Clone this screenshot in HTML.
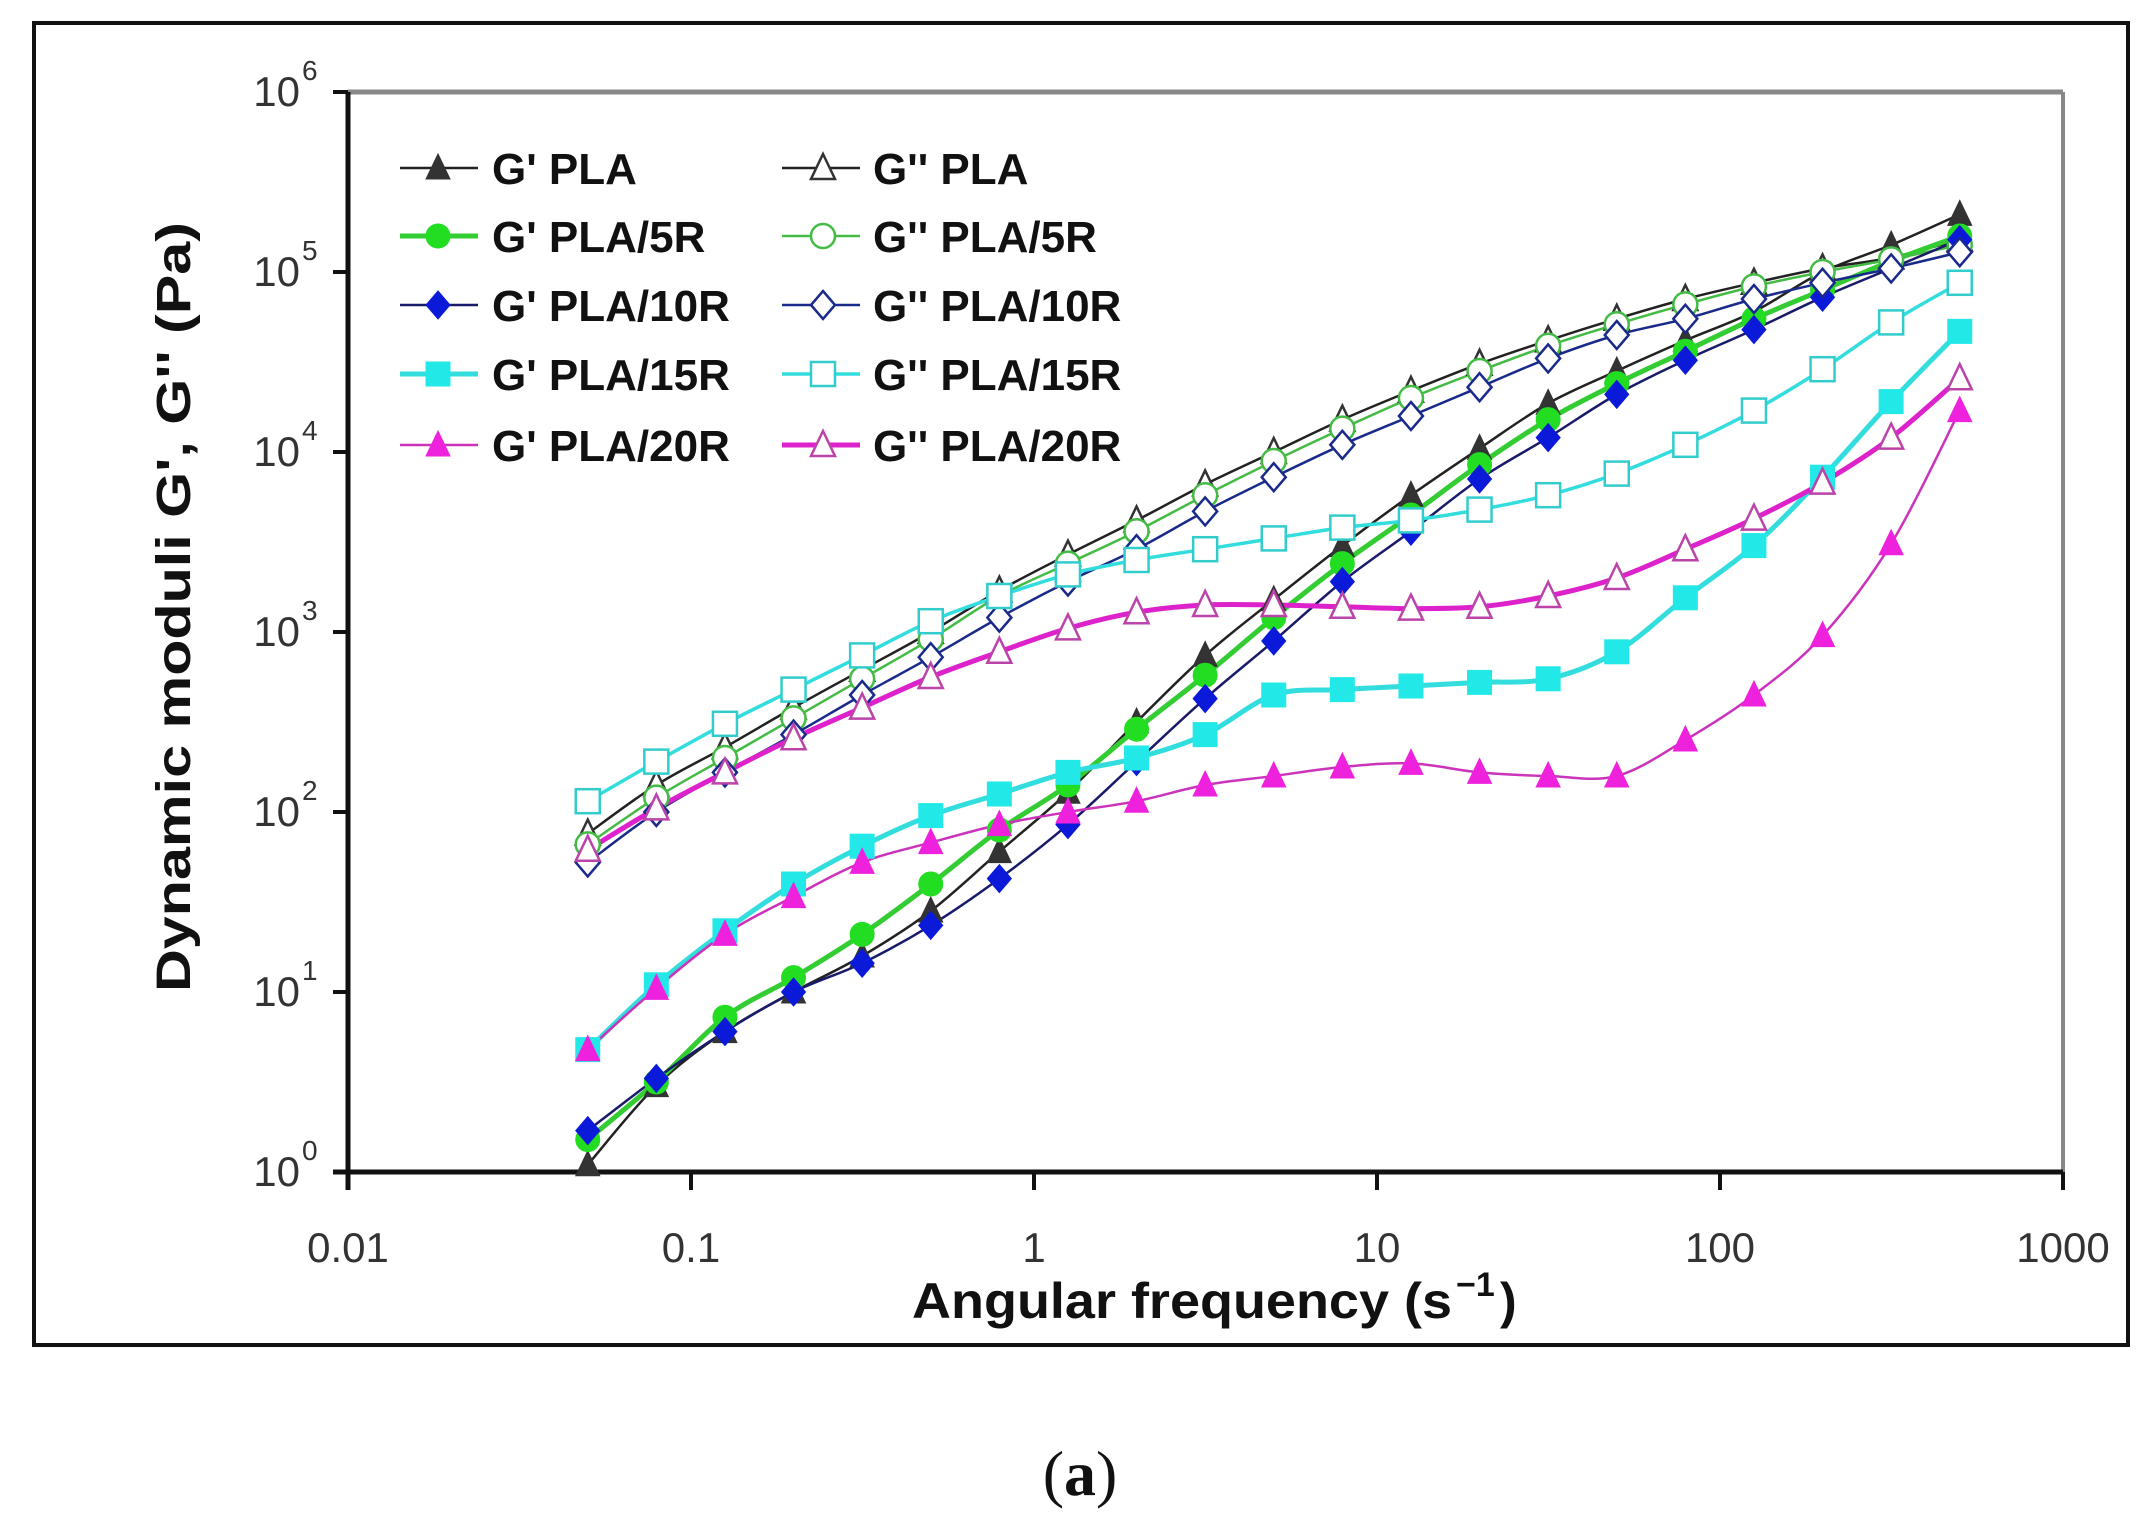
<!DOCTYPE html>
<html><head><meta charset="utf-8"><style>
html,body{margin:0;padding:0;background:#fff;width:2152px;height:1528px;overflow:hidden}
svg{display:block}
</style></head><body>
<svg id="s" width="2152" height="1528" xmlns="http://www.w3.org/2000/svg" font-family="Liberation Sans, Arial, sans-serif">
<rect x="34" y="23" width="2094" height="1322" fill="none" stroke="#111" stroke-width="4"/>
<line x1="348" y1="92" x2="2063" y2="92" stroke="#888" stroke-width="5"/>
<line x1="2063" y1="92" x2="2063" y2="1172" stroke="#888" stroke-width="4"/>
<g id="axes" stroke="#111" stroke-width="5"></g>
<g id="ticklabels" fill="#333" font-size="42"></g>
<g id="series"></g>
<g id="legend"></g>
<text transform="translate(190,607) rotate(-90)" text-anchor="middle" font-size="48" font-weight="bold" fill="#111" textLength="770" lengthAdjust="spacingAndGlyphs">Dynamic moduli G', G'' (Pa)</text>
<text x="912" y="1318" font-size="50" font-weight="bold" fill="#111" textLength="540" lengthAdjust="spacingAndGlyphs">Angular frequency (s</text>
<text x="1456" y="1296" font-size="34" font-weight="bold" fill="#111">−1</text>
<text x="1500" y="1318" font-size="50" font-weight="bold" fill="#111">)</text>
<text x="1080" y="1495" text-anchor="middle" font-family="Liberation Serif, serif" font-size="64" fill="#111">(<tspan font-weight="bold">a</tspan>)</text>
</svg>
<script>
const NS="http://www.w3.org/2000/svg";
function el(t,a,p){const e=document.createElementNS(NS,t);for(const k in a)e.setAttribute(k,a[k]);if(p)p.appendChild(e);return e;}
const X=l=>348+(l+2)*343, Y=l=>1172-l*180;
const ax=document.getElementById('axes');
el('line',{x1:333,y1:1172,x2:2063,y2:1172},ax);
el('line',{x1:348,y1:92,x2:348,y2:1190},ax);
for(let i=0;i<=5;i++)el('line',{x1:X(i-2),y1:1172,x2:X(i-2),y2:1190,'stroke-width':4},ax);
for(let i=0;i<=6;i++)el('line',{x1:333,y1:Y(i),x2:348,y2:Y(i),'stroke-width':4},ax);
const tl=document.getElementById('ticklabels');
['0.01','0.1','1','10','100','1000'].forEach((s,i)=>{const t=el('text',{x:X(i-2),y:1262,'text-anchor':'middle'},tl);t.textContent=s;});
for(let i=0;i<=6;i++){const t=el('text',{x:300,y:Y(i)+14,'text-anchor':'end'},tl);t.textContent='10';const u=el('text',{x:302,y:Y(i)-12,'font-size':28},tl);u.textContent=i;}
const xs=[];for(let i=0;i<21;i++)xs.push(Math.log10(0.05)+i*0.2);
const S=[
 {c:'#333',lc:'#222',w:2.5,m:'tri',f:1,d:[0.04,0.48,0.78,1.0,1.2,1.45,1.78,2.11,2.5,2.87,3.18,3.48,3.76,4.02,4.27,4.45,4.62,4.78,5.0,5.15,5.32]},
 {c:'#333',lc:'#222',w:2.5,m:'tri',f:0,d:[1.88,2.15,2.36,2.58,2.79,3.0,3.23,3.43,3.62,3.82,4.0,4.18,4.34,4.49,4.62,4.74,4.85,4.94,5.02,5.08,5.18]},
 {c:'#22dd22',lc:'#33cc33',w:5,m:'cir',f:1,d:[0.18,0.5,0.86,1.08,1.32,1.6,1.9,2.15,2.46,2.76,3.08,3.38,3.65,3.93,4.18,4.38,4.56,4.74,4.9,5.06,5.2]},
 {c:'#44bb44',lc:'#44bb44',w:2.5,m:'cir',f:0,d:[1.82,2.08,2.3,2.52,2.74,2.96,3.2,3.38,3.56,3.76,3.95,4.13,4.3,4.45,4.59,4.71,4.82,4.92,5.0,5.07,5.15]},
 {c:'#0a1ad8',lc:'#1a1a6a',w:2.5,m:'dia',f:1,d:[0.23,0.52,0.78,1.0,1.16,1.37,1.63,1.93,2.28,2.63,2.95,3.28,3.56,3.85,4.08,4.32,4.51,4.68,4.86,5.02,5.18]},
 {c:'#1a2a8a',lc:'#1a2a8a',w:2.5,m:'dia',f:0,d:[1.72,2.0,2.22,2.43,2.65,2.86,3.08,3.28,3.46,3.67,3.86,4.04,4.2,4.36,4.52,4.65,4.74,4.85,4.94,5.02,5.11]},
 {c:'#22e8e8',lc:'#33dddd',w:5,m:'sq',f:1,d:[0.68,1.04,1.34,1.6,1.81,1.98,2.1,2.22,2.3,2.43,2.65,2.68,2.7,2.72,2.74,2.89,3.19,3.48,3.86,4.28,4.67]},
 {c:'#33cccc',lc:'#33dddd',w:3.5,m:'sq',f:0,d:[2.06,2.28,2.49,2.68,2.87,3.06,3.2,3.32,3.4,3.46,3.52,3.58,3.62,3.68,3.76,3.88,4.04,4.23,4.46,4.72,4.94]},
 {c:'#ee22dd',lc:'#cc33bb',w:2.5,m:'tri',f:1,d:[0.68,1.02,1.32,1.53,1.72,1.83,1.93,2.0,2.06,2.15,2.2,2.25,2.27,2.22,2.2,2.2,2.4,2.65,2.98,3.49,4.23]},
 {c:'#bb44aa',lc:'#dd22cc',w:5,m:'tri',f:0,d:[1.79,2.02,2.22,2.41,2.58,2.75,2.89,3.02,3.11,3.15,3.15,3.14,3.13,3.14,3.2,3.3,3.46,3.63,3.83,4.08,4.41]}
];
function path(pts){let d='M'+pts[0][0]+','+pts[0][1];for(let i=0;i<pts.length-1;i++){const p0=pts[i-1]||pts[i],p1=pts[i],p2=pts[i+1],p3=pts[i+2]||p2;d+=` C${p1[0]+(p2[0]-p0[0])/6},${p1[1]+(p2[1]-p0[1])/6} ${p2[0]-(p3[0]-p1[0])/6},${p2[1]-(p3[1]-p1[1])/6} ${p2[0]},${p2[1]}`;}return d;}
function marker(g,s,x,y){const a={fill:s.f?s.c:'#fff',stroke:s.c,'stroke-width':s.f?1:2.5};const r=12;
 if(s.m=='tri')el('polygon',Object.assign({points:`${x},${y-r-2} ${x+r},${y+r-1} ${x-r},${y+r-1}`},a),g);
 else if(s.m=='cir')el('circle',Object.assign({cx:x,cy:y,r:r},a),g);
 else if(s.m=='dia')el('polygon',Object.assign({points:`${x},${y-r-2} ${x+r},${y} ${x},${y+r+2} ${x-r},${y}`},a),g);
 else el('rect',Object.assign({x:x-r,y:y-r,width:2*r,height:2*r},a),g);}
const sg=document.getElementById('series');
S.forEach(s=>{const pts=s.d.map((v,i)=>[X(xs[i]),Y(v)]);el('path',{d:path(pts),fill:'none',stroke:s.lc,'stroke-width':s.w},sg);});
S.forEach(s=>{s.d.forEach((v,i)=>marker(sg,s,X(xs[i]),Y(v)));});
const lg=document.getElementById('legend');
const names=['PLA','PLA/5R','PLA/10R','PLA/15R','PLA/20R'];const rows=[168,236,305,374,445];
S.forEach((s,i)=>{const r=Math.floor(i/2),col=i%2;const x0=col?782:400,xm=col?823:438,xt=col?873:492,y=rows[r];
 el('line',{x1:x0,y1:y,x2:x0+78,y2:y,stroke:s.lc,'stroke-width':s.w},lg);marker(lg,s,xm,y);
 const t=el('text',{x:xt,y:y+16,'font-size':44,'font-weight':'bold',fill:'#111'},lg);t.textContent=(col?"G'' ":"G' ")+names[r];});
</script>
</body></html>
